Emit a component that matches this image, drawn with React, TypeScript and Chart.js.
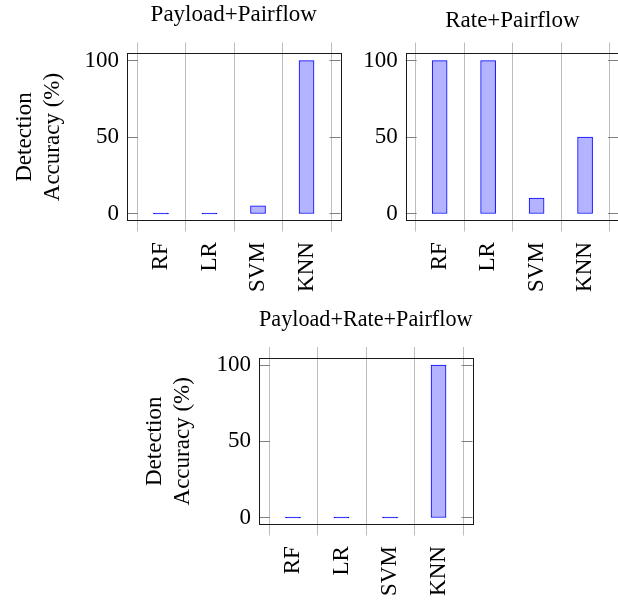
import React, { useEffect, useRef } from 'react';
import { Chart, registerables } from 'chart.js';

Chart.register(...registerables);

// ---- data ----
const categories = ['RF', 'LR', 'SVM', 'KNN'];
const payloadPairflow = [0, 0, 5, 100];
const ratePairflow = [100, 100, 10, 50];
const payloadRatePairflow = [0, 0, 0, 100];
const yTickValues = [0, 50, 100];
const panelTitles = ['Payload+Pairflow', 'Rate+Pairflow', 'Payload+Rate+Pairflow'];
const yAxisTitle = ['Detection', 'Accuracy (%)'];

// ---- styles ----
const FONT_FAMILY = "'Liberation Serif', 'Times New Roman', Times, serif";
const FONT_SIZE = 23;
const BAR_FILL = '#b3b3ff';
const BAR_EDGE = '#0000ff';
const GRID_COLOR = '#bdbdbd';
const TICK_COLOR = '#808080';
const BOX_COLOR = '#1a1a1a';
const EXT = 10.5;
const INNER_TICK = 11;

const CANVAS_W = 700;
const CANVAS_H = 601;

type Panel = {
  title: string;
  values: number[];
  showYTitle: boolean;
  pad: { left: number; right: number; top: number; bottom: number };
  yWidth: number;
  xHeight: number;
  titlePad: { top: number; bottom: number };
};

const framePlugin = {
  id: 'pgfFrame',
  beforeDatasetsDraw(chart: any) {
    const { ctx, chartArea: a, scales } = chart;
    const x = scales.x;
    const y = scales.y;
    ctx.save();
    ctx.lineWidth = 1;
    ctx.strokeStyle = GRID_COLOR;
    for (const t of x.ticks) {
      if (Number.isInteger(t.value)) continue;
      const px = Math.round(x.getPixelForValue(t.value)) + 0.5;
      ctx.beginPath();
      ctx.moveTo(px, a.top - EXT);
      ctx.lineTo(px, a.bottom + EXT);
      ctx.stroke();
    }
    ctx.strokeStyle = TICK_COLOR;
    for (const t of y.ticks) {
      const py = Math.floor(y.getPixelForValue(t.value)) + 0.5;
      ctx.beginPath();
      ctx.moveTo(a.left, py);
      ctx.lineTo(a.left + INNER_TICK, py);
      ctx.moveTo(a.right, py);
      ctx.lineTo(a.right - INNER_TICK, py);
      ctx.stroke();
    }
    ctx.restore();
  },
  afterDatasetsDraw(chart: any) {
    const { ctx, chartArea: a } = chart;
    ctx.save();
    ctx.lineWidth = 1;
    ctx.strokeStyle = BOX_COLOR;
    const l = Math.round(a.left) + 0.5;
    const r = Math.round(a.right) + 0.5;
    const t = Math.round(a.top) + 0.5;
    const b = Math.round(a.bottom) - 0.5;
    ctx.strokeRect(l, t, r - l, b - t);
    ctx.restore();
  },
};

function makeConfig(p: Panel): any {
  const font = { family: FONT_FAMILY, size: FONT_SIZE, weight: 'normal' as const };
  return {
    type: 'bar',
    data: {
      datasets: [
        {
          data: p.values.map((v, i) => ({ x: i, y: v })),
          backgroundColor: (c: any) => (c.raw && c.raw.y === 0 ? BAR_EDGE : BAR_FILL),
          borderColor: BAR_EDGE,
          borderWidth: 1,
          borderSkipped: false,
          barThickness: 15,
          minBarLength: 1,
        },
      ],
    },
    options: {
      responsive: false,
      animation: false,
      devicePixelRatio: 1,
      layout: { padding: p.pad },
      plugins: {
        legend: { display: false },
        tooltip: { enabled: false },
        title: {
          display: true,
          text: p.title,
          fullSize: false,
          color: '#000',
          font: { ...font, lineHeight: 1.2 },
          padding: p.titlePad,
        },
      },
      scales: {
        x: {
          type: 'linear',
          min: -0.7,
          max: categories.length - 0.3,
          offset: false,
          grid: { display: false, drawTicks: false, offset: false },
          border: { display: false },
          afterBuildTicks: (s: any) => {
            const ticks: { value: number }[] = [];
            for (let i = -1; i < categories.length; i++) {
              ticks.push({ value: i + 0.5 });
              if (i + 1 < categories.length) ticks.push({ value: i + 1 });
            }
            ticks.sort((a, b) => a.value - b.value);
            s.ticks = ticks;
          },
          afterFit: (s: any) => {
            s.height = p.xHeight;
          },
          ticks: {
            autoSkip: false,
            minRotation: 90,
            maxRotation: 90,
            padding: 21,
            color: '#000',
            font,
            callback: (v: number) => (Number.isInteger(v) ? categories[v] : ''),
          },
        },
        y: {
          type: 'linear',
          min: -5,
          max: 105,
          grid: { display: false, drawTicks: false },
          border: { display: false },
          afterBuildTicks: (s: any) => {
            s.ticks = yTickValues.map((v) => ({ value: v }));
          },
          afterFit: (s: any) => {
            s.width = p.yWidth;
          },
          ticks: { padding: 8, color: '#000', font },
          title: p.showYTitle
            ? {
                display: true,
                text: yAxisTitle,
                color: '#000',
                font: { ...font, lineHeight: 28 / FONT_SIZE },
                padding: { top: 10.5, bottom: 0 },
              }
            : { display: false },
        },
      },
    },
    plugins: [framePlugin],
  };
}

const panels: Panel[] = [
  {
    title: panelTitles[0],
    values: payloadPairflow,
    showYTitle: true,
    pad: { left: 0, right: CANVAS_W - 340.5, top: 0, bottom: 280 },
    yWidth: 127,
    xHeight: CANVAS_H - 280 - 221.1,
    titlePad: { top: 0.7, bottom: 24.7 },
  },
  {
    title: panelTitles[1],
    values: ratePairflow,
    showYTitle: false,
    pad: { left: 300, right: CANVAS_W - 619, top: 0, bottom: 280 },
    yWidth: 105.7,
    xHeight: CANVAS_H - 280 - 221.1,
    titlePad: { top: 6.7, bottom: 18.7 },
  },
  {
    title: panelTitles[2],
    values: payloadRatePairflow,
    showYTitle: true,
    pad: { left: 130, right: CANVAS_W - 472.5, top: 300, bottom: 0 },
    yWidth: 129,
    xHeight: CANVAS_H - 525.1,
    titlePad: { top: 6.5, bottom: 23.4 },
  },
];

function ChartPanel({ panel }: { panel: Panel }) {
  const ref = useRef<HTMLCanvasElement | null>(null);
  useEffect(() => {
    if (!ref.current) return;
    const chart = new Chart(ref.current, makeConfig(panel));
    return () => chart.destroy();
  }, [panel]);
  return (
    <canvas
      ref={ref}
      width={CANVAS_W}
      height={CANVAS_H}
      style={{ position: 'absolute', left: 0, top: 0, width: CANVAS_W, height: CANVAS_H }}
    />
  );
}

export default function App() {
  return (
    <div
      style={{
        position: 'absolute',
        left: 0,
        top: 0,
        width: 618,
        height: 601,
        overflow: 'hidden',
        background: '#fff',
      }}
    >
      {panels.map((p, i) => (
        <ChartPanel key={i} panel={p} />
      ))}
    </div>
  );
}
